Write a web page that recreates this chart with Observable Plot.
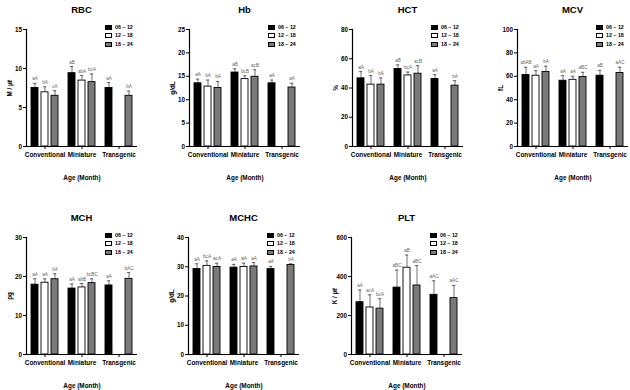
<!DOCTYPE html>
<html>
<head>
<meta charset="utf-8">
<script src="https://cdn.jsdelivr.net/npm/d3@7"></script>
<script src="https://cdn.jsdelivr.net/npm/@observablehq/plot@0.6"></script>
<style>
  body { margin: 0; background: #fff; }
  #fig { position: relative; width: 630px; height: 390px; overflow: hidden; background: #fff;
         font-family: "Liberation Sans", Arial, sans-serif; font-weight: bold; color: #000; }
  .panel { position: absolute; width: 160px; }
  .panel svg { max-width: none !important; }
  .title { position: absolute; text-align: center; font-size: 9.5px; line-height: 12px; }
  .legend { position: absolute; font-size: 5.3px; line-height: 8.3px; white-space: nowrap; }
  .sw { display: inline-block; width: 5px; height: 3px; border: 0.8px solid #000; margin-right: 3px; vertical-align: middle; }
</style>
</head>
<body>
<div id="fig"></div>
<script>
// Groups, age classes and per-panel means, SDs and significance letters
const groups = ["Conventional", "Miniature", "Transgenic"];
const ages = ["06 ~ 12", "12 ~ 18", "18 ~ 24"];
const ageColors = ["#000000", "#ffffff", "#7a7a7a"];

// values are ordered group by group, age class inside each group; null = not measured
const rbcMean = [7.5, 6.95, 6.5, 9.4, 8.45, 8.25, 7.5, null, 6.5];
const rbcSd   = [0.6, 0.7, 0.65, 0.85, 0.65, 1.05, 0.7, null, 0.6];
const rbcSig  = ["aA", "bA", "cA", "aB", "abA", "bcA", "aA", null, "bA"];

const hbMean = [13.5, 12.8, 12.5, 15.8, 14.4, 14.9, 13.5, null, 12.6];
const hbSd   = [0.9, 1.4, 1.4, 0.8, 0.7, 1.5, 0.7, null, 0.9];
const hbSig  = ["aA", "bA", "bA", "aB", "bcB", "acB", "aA", null, "aA"];

const hctMean = [46.6, 42.3, 42.3, 53.0, 48.6, 49.8, 46.2, null, 41.6];
const hctSd   = [4.6, 6.2, 4.6, 2.8, 2.3, 5.5, 2.9, null, 3.4];
const hctSig  = ["aA", "bA", "bA", "aB", "bcA", "acB", "aA", null, "bA"];

const mcvMean = [61.1, 60.5, 63.7, 56.2, 57.0, 59.4, 60.5, null, 62.8];
const mcvSd   = [6.6, 4.3, 4.9, 4.3, 3.0, 4.0, 4.6, null, 4.9];
const mcvSig  = ["abAB", "aA", "bA", "aA", "aA", "aBC", "aB", null, "aAC"];

const mchMean = [17.9, 18.4, 19.3, 16.9, 17.2, 18.3, 17.7, null, 19.4];
const mchSd   = [1.5, 1.0, 1.4, 1.2, 1.0, 1.1, 1.2, null, 1.6];
const mchSig  = ["aA", "aA", "bA", "aA", "abB", "bcBC", "aA", null, "bAC"];

const mchcMean = [29.2, 30.3, 29.9, 29.7, 29.9, 30.1, 29.2, null, 30.6];
const mchcSd   = [1.8, 1.7, 1.3, 1.1, 1.3, 1.3, 0.9, null, 0.4];
const mchcSig  = ["aA", "bcA", "acA", "aA", "aA", "aA", "aA", null, "bA"];

const pltMean = [268, 241, 235, 343, 445, 354, 306, null, 289];
const pltSd   = [63, 65, 51, 90, 65, 102, 72, null, 65];
const pltSig  = ["aA", "acA", "bcA", "aBC", "aB", "aBC", "aAC", null, "aAC"];

const panels = [
  {name: "RBC",  unit: "M / µℓ", max: 15,  ticks: [0, 5, 10, 15],            mean: rbcMean,  sd: rbcSd,  sig: rbcSig},
  {name: "Hb",   unit: "g/dL",   max: 25,  ticks: [0, 5, 10, 15, 20, 25],    mean: hbMean,   sd: hbSd,   sig: hbSig},
  {name: "HCT",  unit: "%",      max: 80,  ticks: [0, 20, 40, 60, 80],       mean: hctMean,  sd: hctSd,  sig: hctSig},
  {name: "MCV",  unit: "fL",     max: 100, ticks: [0, 20, 40, 60, 80, 100],  mean: mcvMean,  sd: mcvSd,  sig: mcvSig},
  {name: "MCH",  unit: "pg",     max: 30,  ticks: [0, 10, 20, 30],           mean: mchMean,  sd: mchSd,  sig: mchSig},
  {name: "MCHC", unit: "g/dL",   max: 40,  ticks: [0, 10, 20, 30, 40],       mean: mchcMean, sd: mchcSd, sig: mchcSig},
  {name: "PLT",  unit: "K / µℓ", max: 600, ticks: [0, 200, 400, 600],        mean: pltMean,  sd: pltSd,  sig: pltSig}
];

// page placement of each small chart (left edge of svg, top edge of svg)
const placement = [
  [-4, 0], [159, 0], [322, 0], [487, 0],
  [-4, 208], [158, 208], [321, 208]
];

const W = 160, H = 183, ML = 30, MT = 29, MB = 37, FRAME_W = 111;
const font = '"Liberation Sans", Arial, sans-serif';

function rowsOf(p) {
  const rows = [];
  groups.forEach((g, i) => ages.forEach((a, j) => {
    const k = i * ages.length + j;
    if (p.mean[k] == null) return;
    rows.push({group: g, age: a, mean: p.mean[k], top: p.mean[k] + p.sd[k], sig: p.sig[k]});
  }));
  return rows;
}

function chart(p) {
  const rows = rowsOf(p);
  return Plot.plot({
    width: W, height: H,
    marginLeft: ML, marginRight: W - ML - FRAME_W, marginTop: MT, marginBottom: MB,
    style: {fontFamily: font, fontWeight: "bold", fontSize: "6px", background: "transparent", overflow: "visible", color: "#000"},
    fx: {domain: groups, padding: 0},
    x: {domain: ages, paddingInner: 0.35, paddingOuter: 0.525, axis: null},
    y: {domain: [0, p.max]},
    color: {domain: ages, range: ageColors},
    marks: [
      Plot.axisY({ticks: p.ticks, tickSize: 3, tickPadding: 1.5, label: p.unit, labelArrow: "none", labelAnchor: "center", labelOffset: 18.5, fontSize: 6.3}),
      Plot.axisFx({anchor: "bottom", tickSize: 3, tickPadding: 3, fontSize: 6.4, label: "Age (Month)", labelArrow: "none", labelAnchor: "center", labelOffset: 33.5}),
      Plot.frame({anchor: "left", facetAnchor: "left", strokeWidth: 1.2}),
      Plot.ruleX(rows, {fx: "group", x: "age", y1: "mean", y2: "top", stroke: "#333", strokeWidth: 0.7}),
      Plot.tickY(rows, {fx: "group", x: "age", y: "top", stroke: "#333", strokeWidth: 0.7, inset: 1.8}),
      Plot.barY(rows, {fx: "group", x: "age", y: "mean", fill: "age", stroke: "#000", strokeWidth: 0.9}),
      Plot.ruleY([0], {strokeWidth: 1.2}),
      Plot.text(rows, {fx: "group", x: "age", y: "top", text: "sig", dy: -4.5, fontSize: 4.6, fill: "#666", fontWeight: "normal"})
    ]
  });
}

const fig = document.getElementById("fig");
panels.forEach((p, i) => {
  const [left, top] = placement[i];
  const box = document.createElement("div");
  box.className = "panel";
  box.style.left = left + "px";
  box.style.top = top + "px";
  box.appendChild(chart(p));
  fig.appendChild(box);

  const title = document.createElement("div");
  title.className = "title";
  title.textContent = p.name;
  title.style.left = (left + ML) + "px";
  title.style.width = FRAME_W + "px";
  title.style.top = (top + 4) + "px";
  fig.appendChild(title);

  const legend = document.createElement("div");
  legend.className = "legend";
  legend.style.left = (left + ML + 79) + "px";
  legend.style.top = (top + MT - 6) + "px";
  ages.forEach((a, j) => {
    const line = document.createElement("div");
    const sw = document.createElement("span");
    sw.className = "sw";
    sw.style.background = ageColors[j];
    line.appendChild(sw);
    line.appendChild(document.createTextNode(a));
    legend.appendChild(line);
  });
  fig.appendChild(legend);
});
</script>
</body>
</html>
